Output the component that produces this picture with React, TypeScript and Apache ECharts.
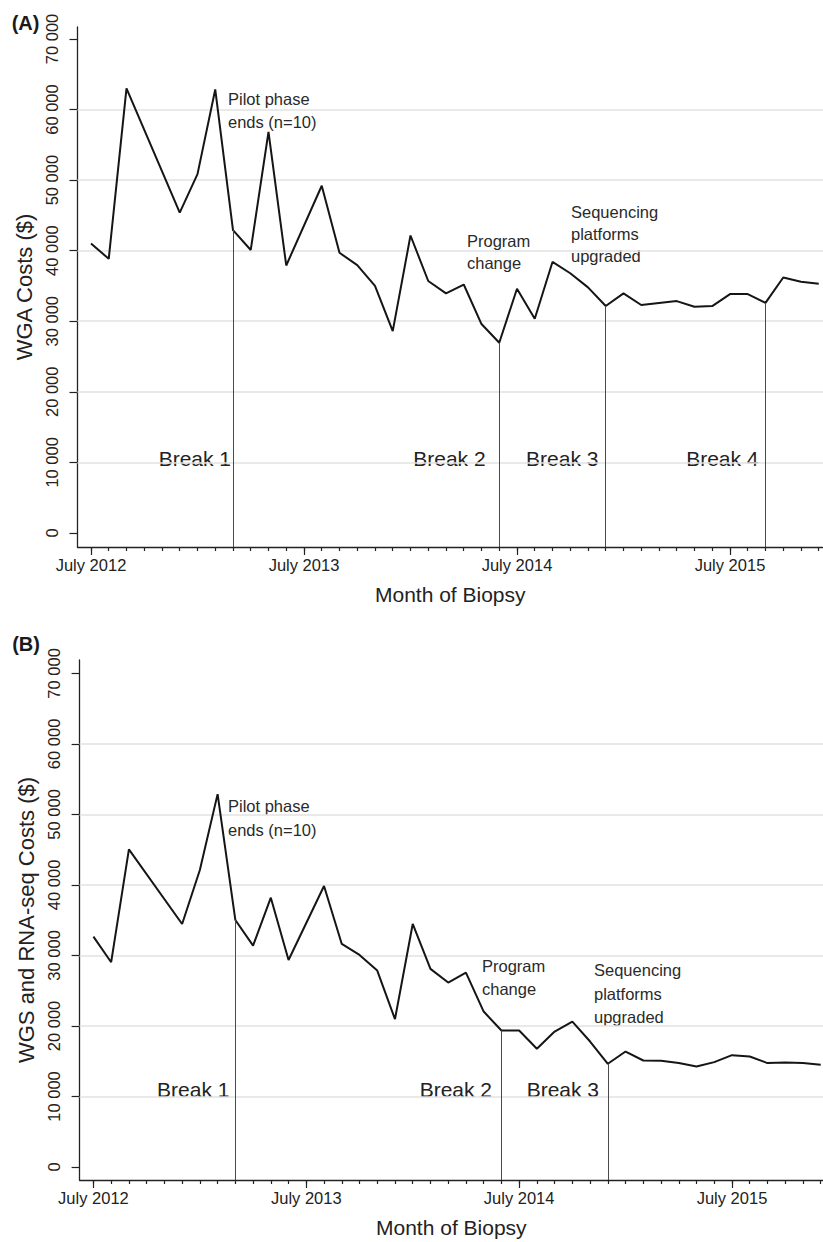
import React, { useEffect, useRef } from 'react';
import * as echarts from 'echarts';

// Month index counted from July 2012 (0 = July 2012)
const monthsA = [0, 1, 2, 5, 6, 7, 8, 9, 10, 11, 13, 14, 15, 16, 17, 18, 19, 20, 21, 22, 23, 24, 25, 26, 27, 28, 29, 30, 31, 33, 34, 35, 36, 37, 38, 39, 40, 41];
const costsA = [41000, 38850, 63000, 45400, 50850, 62850, 42900, 40100, 56850, 37900, 49200, 39700, 37950, 35000, 28600, 42150, 35700, 33950, 35200, 29600, 26950, 34600, 30350, 38400, 36800, 34800, 32150, 33950, 32300, 32850, 32050, 32150, 33850, 33850, 32600, 36200, 35600, 35300];

const monthsB = [0, 1, 2, 5, 6, 7, 8, 9, 10, 11, 13, 14, 15, 16, 17, 18, 19, 20, 21, 22, 23, 24, 25, 26, 27, 28, 29, 30, 31, 32, 33, 34, 35, 36, 37, 38, 39, 40, 41];
const costsB = [32660, 29040, 45040, 34460, 42110, 52880, 35030, 31390, 38190, 29360, 39840, 31630, 30070, 27850, 20960, 34460, 28090, 26150, 27570, 22040, 19350, 19350, 16760, 19210, 20620, 17790, 14630, 16370, 15100, 15060, 14730, 14250, 14870, 15860, 15670, 14730, 14820, 14730, 14490];

const breaksA = [8, 23, 29, 38];
const breaksB = [8, 23, 29];
const breakLabelsA = ['Break 1', 'Break 2', 'Break 3', 'Break 4'];
const breakLabelsB = ['Break 1', 'Break 2', 'Break 3'];

const xTickMonths = [0, 12, 24, 36];
const xTickLabels = ['July 2012', 'July 2013', 'July 2014', 'July 2015'];
const minorTickMonths = [0, 1, 2, 3, 4, 5, 6, 7, 8, 9, 10, 11, 12, 13, 14, 15, 16, 17, 18, 19, 20, 21, 22, 23, 24, 25, 26, 27, 28, 29, 30, 31, 32, 33, 34, 35, 36, 37, 38, 39, 40, 41];
const yTicks = [0, 10000, 20000, 30000, 40000, 50000, 60000, 70000];
const gridValues = [10000, 20000, 30000, 40000, 50000, 60000];

const FONT = '"Liberation Sans", Arial, Helvetica, sans-serif';
const AXIS_COLOR = '#222';

function fmtY(v: number) {
  if (v === 0) return '0';
  return String(v).replace(/\B(?=(\d{3})+(?!\d))/g, ' ');
}

function fmtX(v: number) {
  const i = xTickMonths.indexOf(v);
  return i >= 0 ? xTickLabels[i] : '';
}

function buildAxes(g: number, xMin: number, xMax: number, yMin: number, yMax: number, yName: string, yNameGap: number) {
  const xMinor = {
    type: 'value', gridIndex: g, min: xMin, max: xMax, position: 'bottom',
    axisLine: { show: true, onZero: false, lineStyle: { color: AXIS_COLOR, width: 1.3 } },
    axisTick: { show: true, customValues: minorTickMonths, length: 4, lineStyle: { color: AXIS_COLOR, width: 1.2 } },
    axisLabel: { show: false },
    splitLine: { show: false },
  };
  const xMajor = {
    type: 'value', gridIndex: g, min: xMin, max: xMax, position: 'bottom',
    axisLine: { show: false, onZero: false },
    axisTick: { show: true, customValues: xTickMonths, length: 8, lineStyle: { color: AXIS_COLOR, width: 1.2 } },
    axisLabel: { show: true, customValues: xTickMonths, formatter: fmtX, margin: 9.5, fontSize: 16.5, color: AXIS_COLOR, fontFamily: FONT },
    splitLine: { show: false },
    name: 'Month of Biopsy', nameLocation: 'middle', nameGap: 37,
    nameTextStyle: { fontSize: 21, color: AXIS_COLOR, fontFamily: FONT },
  };
  const y = {
    type: 'value', gridIndex: g, min: yMin, max: yMax,
    axisLine: { show: true, onZero: false, lineStyle: { color: AXIS_COLOR, width: 1.3 } },
    axisTick: { show: true, customValues: yTicks, length: 8, lineStyle: { color: AXIS_COLOR, width: 1.2 } },
    axisLabel: { show: true, customValues: yTicks, rotate: 90, margin: 17, formatter: fmtY, fontSize: 16.5, color: AXIS_COLOR, fontFamily: FONT },
    splitLine: { show: false },
    name: yName, nameLocation: 'middle', nameGap: yNameGap,
    nameTextStyle: { fontSize: 22, color: AXIS_COLOR, fontFamily: FONT },
  };
  return { xMinor, xMajor, y };
}

function buildSeries(g: number, months: number[], costs: number[], breaks: number[], yMin: number) {
  const data = months.map((m, i) => [m, costs[i]]);
  const valueAt = (m: number) => costs[months.indexOf(m)];
  return [
    {
      type: 'line', xAxisIndex: g * 2, yAxisIndex: g, data: [], z: 1, silent: true,
      markLine: {
        silent: true, z: 1, symbol: ['none', 'none'], label: { show: false },
        lineStyle: { color: '#e2e2e2', width: 1.6, type: 'solid' },
        emphasis: { disabled: true },
        data: gridValues.map((v) => ({ yAxis: v })),
      },
    },
    {
      type: 'line', xAxisIndex: g * 2, yAxisIndex: g, data, z: 3, symbol: 'none', silent: true,
      lineStyle: { color: '#151515', width: 2 },
      markLine: {
        silent: true, symbol: ['none', 'none'], label: { show: false },
        lineStyle: { color: '#4a4a4a', width: 1, type: 'solid' },
        emphasis: { disabled: true },
        data: breaks.map((m) => [{ coord: [m, yMin] }, { coord: [m, valueAt(m)] }]),
      },
    },
  ];
}

function txt(text: string, x: number, y: number, fontSize: number, align: string, lineHeight?: number, bold?: boolean, color?: string) {
  return {
    type: 'text', x, y, silent: true,
    style: {
      text, fontSize, fontFamily: FONT, fill: color || '#2a2a2a', align, verticalAlign: 'middle',
      lineHeight: lineHeight || fontSize, fontWeight: bold ? 'bold' : 'normal',
    },
  };
}

export default function App() {
  const ref = useRef<HTMLDivElement>(null);
  useEffect(() => {
    if (!ref.current) return;
    const chart = echarts.init(ref.current, undefined, { renderer: 'svg' });
    const yMinA = -2000, yMaxA = 71700;
    const yMinB = -1850, yMaxB = 71900;
    const axA = buildAxes(0, -0.76, 41.24, yMinA, yMaxA, 'WGA Costs ($)', 27);
    const axB = buildAxes(1, -0.78, 41.13, yMinB, yMaxB, 'WGS and RNA-seq Costs ($)', 36);

    const breakRightA = [231, 485.6, 598.4, 758.5];
    const breakRightB = [229.4, 492, 599];

    const graphics: any[] = [
      txt('(A)', 25.5, 23, 20, 'center', 20, true, '#1a1a1a'),
      txt('(B)', 26, 644, 20, 'center', 20, true, '#1a1a1a'),
      txt('Pilot phase\nends (n=10)', 228, 110.5, 16.5, 'left', 23),
      txt('Program\nchange', 467, 251.5, 16.5, 'left', 22),
      txt('Sequencing\nplatforms\nupgraded', 571, 233.5, 16.5, 'left', 22),
      txt('Pilot phase\nends (n=10)', 228, 818, 16.5, 'left', 24.5),
      txt('Program\nchange', 482, 977, 16.5, 'left', 23),
      txt('Sequencing\nplatforms\nupgraded', 594, 993.5, 16.5, 'left', 23.5),
      ...breakLabelsA.map((t, i) => txt(t, breakRightA[i], 458, 21, 'right', 21, false, '#222')),
      ...breakLabelsB.map((t, i) => txt(t, breakRightB[i], 1089.5, 21, 'right', 21, false, '#222')),
    ];

    chart.setOption({
      animation: false,
      textStyle: { fontFamily: FONT },
      grid: [
        { left: 77.5, top: 27, right: 0, height: 520, containLabel: false },
        { left: 79.6, top: 660, right: 0, height: 520, containLabel: false },
      ],
      xAxis: [axA.xMinor, axA.xMajor, axB.xMinor, axB.xMajor],
      yAxis: [axA.y, axB.y],
      series: [
        ...buildSeries(0, monthsA, costsA, breaksA, yMinA),
        ...buildSeries(1, monthsB, costsB, breaksB, yMinB),
      ],
      graphic: graphics,
    });
    return () => chart.dispose();
  }, []);
  return (
    <div
      ref={ref}
      style={{ position: 'fixed', left: 0, top: 0, width: 823, height: 1242, background: '#fff' }}
    />
  );
}
